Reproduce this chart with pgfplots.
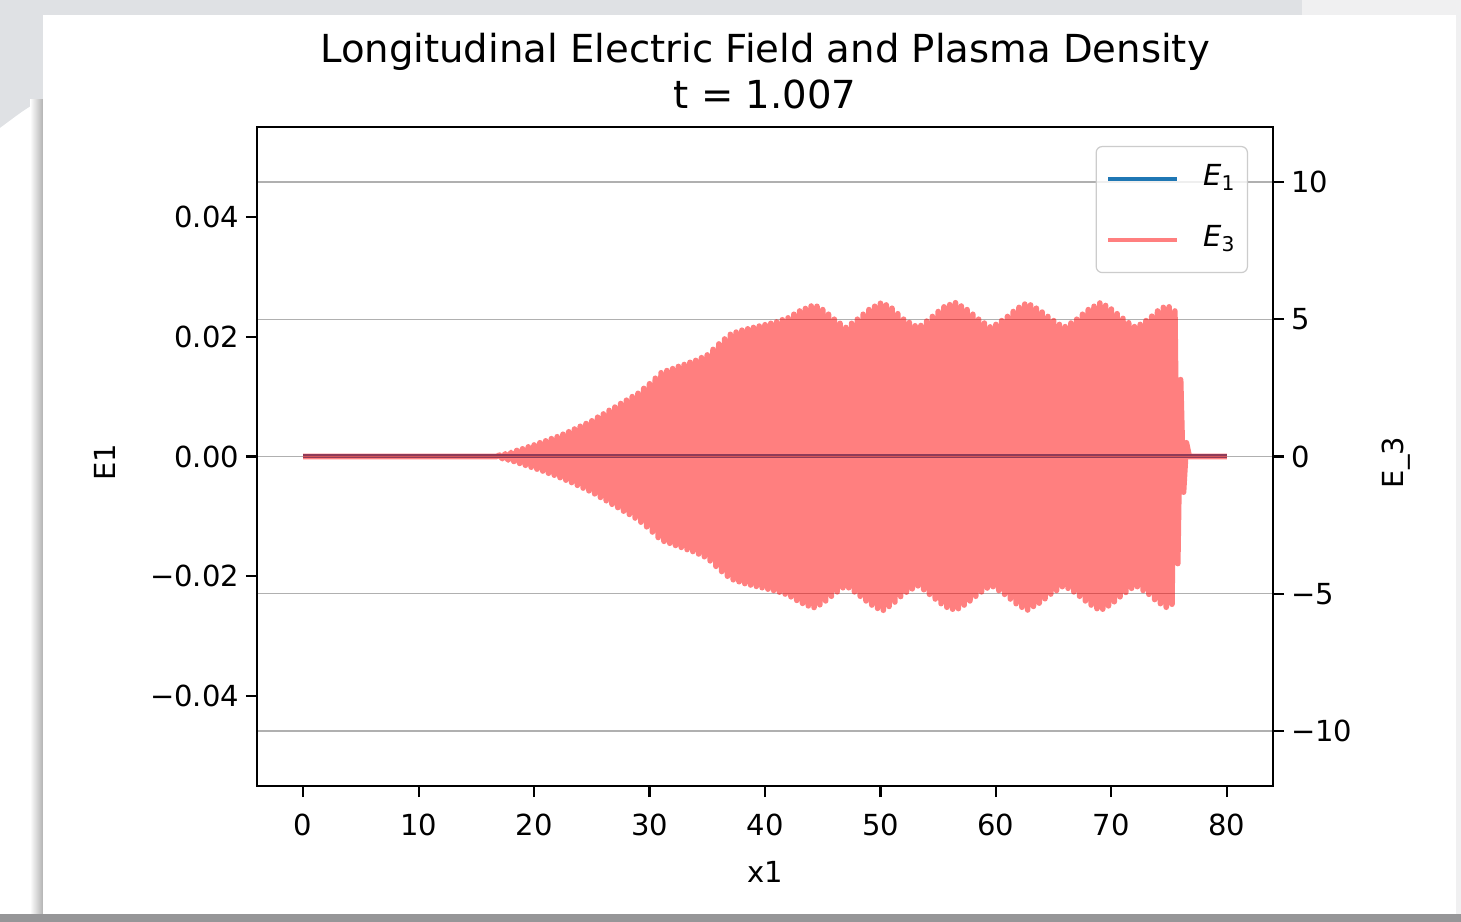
\documentclass[border=0pt]{standalone}
\usepackage{fontspec}
\setmainfont{DejaVu Sans}
\usepackage{pgfplots}
\pgfplotsset{compat=1.18}
\definecolor{tabblue}{RGB}{31,119,180}
\definecolor{gridgray}{RGB}{176,176,176}
\definecolor{bgtop}{RGB}{223,225,228}
\definecolor{bgbot}{RGB}{150,150,152}
\definecolor{bgright}{RGB}{240,240,241}
\begin{document}
\begin{tikzpicture}
\useasboundingbox (0,0) rectangle (730.5bp,461bp);
% screenshot background
\fill[bgtop] (0,0) rectangle (730.5bp,461bp);
\fill[white] (0,4bp) -- (0,397bp) .. controls (7bp,402bp) and (14bp,408bp) .. (21.5bp,411bp) -- (21.5bp,4bp) -- cycle;
\fill[bgright] (651bp,453.5bp) rectangle (730.5bp,461bp);
\fill[bgright] (728bp,0) rectangle (730.5bp,453.5bp);
\fill[bgbot] (0,0) rectangle (730.5bp,4bp);
\shade[left color=white, right color=black!30] (15bp,4bp) rectangle (21.5bp,411bp);
\fill[white] (21.5bp,4bp) rectangle (728bp,453.5bp);

\pgfplotsset{
  every axis/.append style={
    scale only axis, width=508bp, height=329.5bp,
    at={(128.5bp,68bp)}, anchor=south west,
    xmin=-4, xmax=84,
    scaled x ticks=false, scaled y ticks=false,
    tick align=outside, major tick length=5.5bp,
    axis line style={line width=1.2bp},
    tick style={line width=1.1bp, black},
    tick label style={font=\fontsize{14.5bp}{17bp}\selectfont},
    label style={font=\fontsize{14.5bp}{17bp}\selectfont},
  }
}

\begin{axis}[
  ymin=-0.055, ymax=0.055,
  xtick={0,10,20,30,40,50,60,70,80},
  xticklabels={0,10,20,30,40,50,60,70,80},
  xticklabel style={yshift=-5bp},
  ytick={-0.04,-0.02,0,0.02,0.04},
  yticklabels={−0.04,−0.02,0.00,0.02,0.04},
  xtick pos=bottom, ytick pos=left,
  title={Longitudinal Electric Field and Plasma Density\\t = 1.007},
  title style={at={(0.5,1)}, anchor=south, yshift=3bp, inner sep=0pt, align=center,
    font=\fontsize{19.3bp}{23bp}\selectfont},
  xlabel={x1},
  xlabel style={at={(axis description cs:0.5,-0.1457)}, anchor=base, inner sep=0pt},
  ylabel={E1},
  ylabel style={at={(axis description cs:-0.1395,0.491)}, anchor=base, rotate=0, inner sep=0pt},
]
\addplot[color=tabblue, line width=2bp] coordinates {(0,0) (80,0)};
\end{axis}

\begin{axis}[
  ymin=-12, ymax=12,
  hide x axis,
  ytick={-10,-5,0,5,10},
  yticklabels={−10,−5,0,5,10},
  ytick pos=right, yticklabel pos=right,
  ymajorgrids, grid style={color=gridgray, line width=0.6bp},
  ylabel={E\_3},
  ylabel style={at={(axis description cs:1.1285,0.491)}, anchor=base, rotate=0, inner sep=0pt},
  legend style={at={(rel axis cs:0.9754,0.9712)}, anchor=north east,
    draw=black!20, fill=white, fill opacity=0.8, text opacity=1, draw opacity=1,
    rounded corners=3bp, line width=0.6bp,
    inner xsep=5bp, inner ysep=8bp, row sep=14bp, column sep=11bp,
    font=\fontsize{14.5bp}{17bp}\selectfont,
    nodes={inner sep=1bp, text height=10.5bp, text depth=4bp}},
  legend cell align=left,
  legend image code/.code={\draw[#1, line width=2bp] (0bp,0bp) -- (34.5bp,0bp);},
]
\addlegendimage{color=tabblue, line width=2bp}
\addlegendentry{\textit{E}\textsubscript{1}}
\addplot[color=red, draw opacity=0.5, line width=2.8bp, line join=round] coordinates {
(0,0) (16.75,0)
(17,0.05) (17.25,-0.08) (17.5,0.10) (17.75,-0.13)
(18,0.15) (18.25,-0.18) (18.5,0.22) (18.75,-0.25)
(19,0.28) (19.25,-0.32) (19.5,0.35) (19.75,-0.39)
(20,0.42) (20.25,-0.46) (20.5,0.50) (20.75,-0.53)
(21,0.57) (21.25,-0.61) (21.5,0.65) (21.75,-0.68)
(22,0.72) (22.25,-0.77) (22.5,0.81) (22.75,-0.86)
(23,0.90) (23.25,-0.95) (23.5,1.00) (23.75,-1.05)
(24,1.10) (24.25,-1.15) (24.5,1.20) (24.75,-1.25)
(25,1.30) (25.25,-1.36) (25.5,1.43) (25.75,-1.49)
(26,1.55) (26.25,-1.61) (26.5,1.68) (26.75,-1.74)
(27,1.80) (27.25,-1.86) (27.5,1.93) (27.75,-1.99)
(28,2.05) (28.25,-2.11) (28.5,2.18) (28.75,-2.24)
(29,2.30) (29.25,-2.39) (29.5,2.48) (29.75,-2.56)
(30,2.65) (30.25,-2.75) (30.5,2.85) (30.75,-2.95)
(31,3.05) (31.25,-3.09) (31.5,3.13) (31.75,-3.16)
(32,3.20) (32.25,-3.24) (32.5,3.28) (32.75,-3.31)
(33,3.35) (33.25,-3.39) (33.5,3.43) (33.75,-3.46)
(34,3.50) (34.25,-3.55) (34.5,3.60) (34.75,-3.65)
(35,3.70) (35.25,-3.80) (35.5,3.90) (35.75,-4.00)
(36,4.10) (36.25,-4.19) (36.5,4.28) (36.75,-4.36)
(37,4.45) (37.25,-4.49) (37.5,4.53) (37.75,-4.56)
(38,4.60) (38.25,-4.63) (38.5,4.65) (38.75,-4.68)
(39,4.70) (39.25,-4.73) (39.5,4.75) (39.75,-4.78)
(40,4.80) (40.25,-4.83) (40.5,4.85) (40.75,-4.88)
(41,4.90) (41.25,-4.94) (41.5,4.98) (41.75,-5.01)
(42,5.05) (42.25,-5.11) (42.5,5.18) (42.75,-5.24)
(43,5.30) (43.25,-5.35) (43.5,5.39) (43.75,-5.44)
(44,5.48) (44.25,-5.50) (44.5,5.47) (44.75,-5.40)
(45,5.35) (45.25,-5.26) (45.5,5.18) (45.75,-5.09)
(46,5.00) (46.25,-4.93) (46.5,4.85) (46.75,-4.78)
(47,4.70) (47.25,-4.78) (47.5,4.85) (47.75,-4.93)
(48,5.00) (48.25,-5.09) (48.5,5.18) (48.75,-5.26)
(49,5.35) (49.25,-5.41) (49.5,5.47) (49.75,-5.53)
(50,5.58) (50.25,-5.60) (50.5,5.52) (50.75,-5.46)
(51,5.40) (51.25,-5.30) (51.5,5.20) (51.75,-5.10)
(52,5.00) (52.25,-4.94) (52.5,4.88) (52.75,-4.82)
(53,4.76) (53.25,-4.71) (53.5,4.77) (53.75,-4.85)
(54,4.93) (54.25,-5.02) (54.5,5.10) (54.75,-5.19)
(55,5.28) (55.25,-5.36) (55.5,5.45) (55.75,-5.49)
(56,5.53) (56.25,-5.56) (56.5,5.60) (56.75,-5.54)
(57,5.48) (57.25,-5.41) (57.5,5.35) (57.75,-5.26)
(58,5.18) (58.25,-5.09) (58.5,5.00) (58.75,-4.93)
(59,4.86) (59.25,-4.79) (59.5,4.72) (59.75,-4.74)
(60,4.81) (60.25,-4.88) (60.5,4.95) (60.75,-5.02)
(61,5.10) (61.25,-5.19) (61.5,5.28) (61.75,-5.36)
(62,5.43) (62.25,-5.49) (62.5,5.55) (62.75,-5.59)
(63,5.52) (63.25,-5.46) (63.5,5.40) (63.75,-5.34)
(64,5.26) (64.25,-5.18) (64.5,5.10) (64.75,-5.01)
(65,4.95) (65.25,-4.88) (65.5,4.81) (65.75,-4.74)
(66,4.73) (66.25,-4.80) (66.5,4.86) (66.75,-4.93)
(67,5.00) (67.25,-5.09) (67.5,5.18) (67.75,-5.26)
(68,5.35) (68.25,-5.41) (68.5,5.47) (68.75,-5.54)
(69,5.59) (69.25,-5.56) (69.5,5.50) (69.75,-5.44)
(70,5.37) (70.25,-5.29) (70.5,5.20) (70.75,-5.11)
(71,5.03) (71.25,-4.95) (71.5,4.87) (71.75,-4.80)
(72,4.73) (72.25,-4.74) (72.5,4.81) (72.75,-4.88)
(73,4.95) (73.25,-5.02) (73.5,5.11) (73.75,-5.21)
(74,5.30) (74.25,-5.36) (74.5,5.43) (74.75,-5.49)
(75,5.45) (75.25,-5.38) (75.5,5.30) (75.75,-3.90)
(76,2.80) (76.25,-1.30) (76.5,0.50) (76.75,0)
(80,0)
};
\addlegendentry{\textit{E}\textsubscript{3}}
\end{axis}
\end{tikzpicture}
\end{document}
